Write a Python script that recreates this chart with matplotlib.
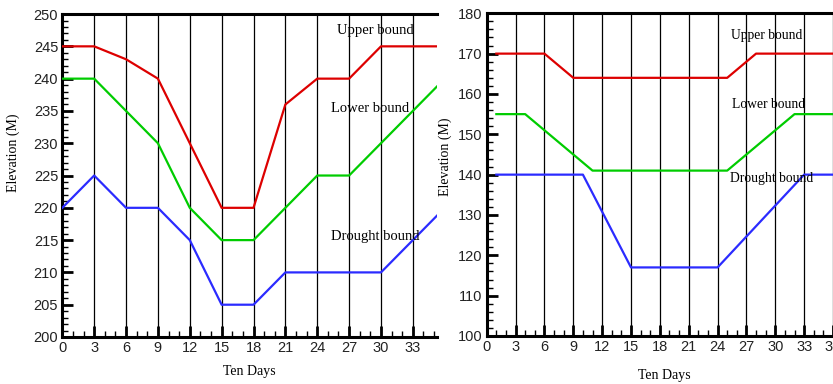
import matplotlib.pyplot as plt
from matplotlib.ticker import MultipleLocator

# left panel
days_up1 = [0, 3, 6, 9, 12, 15, 18, 21, 24, 27, 30, 36]
upper1 = [245, 245, 243, 240, 230, 220, 220, 236, 240, 240, 245, 245]
days_lo1 = [0, 3, 6, 9, 12, 15, 18, 21, 24, 27, 30, 33, 36]
lower1 = [240, 240, 235, 230, 220, 215, 215, 220, 225, 225, 230, 235, 240]
days_dr1 = [0, 3, 6, 9, 12, 15, 18, 21, 24, 27, 30, 36]
drought1 = [220, 225, 220, 220, 215, 205, 205, 210, 210, 210, 210, 220]

# right panel
days_up2 = [1, 6, 9, 25, 28, 36]
upper2 = [170, 170, 164, 164, 170, 170]
days_lo2 = [1, 4, 11, 25, 32, 36]
lower2 = [155, 155, 141, 141, 155, 155]
days_dr2 = [1, 10, 15, 24, 33, 36]
drought2 = [140, 140, 117, 117, 140, 140]

xticks1 = list(range(0, 34, 3))
xticks2 = list(range(0, 37, 3))

red = "#dd0000"
green = "#00cc00"
blue = "#2b2bff"
serif = "Liberation Serif"
sans = "Liberation Sans"

fig = plt.figure(figsize=(8.33, 3.84), dpi=100)
ax1 = fig.add_axes([0.0748, 0.1224, 0.4495, 0.841])
ax2 = fig.add_axes([0.5843, 0.125, 0.4157, 0.8404])


def style(ax, xticks, xmax, ylo, yhi, ymajor, yminor):
    ax.set_xlim(0, xmax)
    ax.set_ylim(ylo, yhi)
    ax.set_xticks(xticks)
    ax.yaxis.set_major_locator(MultipleLocator(ymajor))
    ax.xaxis.set_minor_locator(MultipleLocator(1))
    ax.yaxis.set_minor_locator(MultipleLocator(yminor))
    for x in xticks:
        ax.axvline(x, color="black", lw=0.9, zorder=1)
    ax.spines["right"].set_visible(False)
    for s in ["left", "bottom", "top"]:
        ax.spines[s].set_linewidth(2.2)
    ax.tick_params(which="major", direction="in", length=8, width=2, labelsize=10.5, pad=3)
    ax.tick_params(which="minor", direction="in", length=4, width=1)
    ax.tick_params(top=False, right=False, which="both")
    for lab in ax.get_xticklabels() + ax.get_yticklabels():
        lab.set_fontfamily(sans)
        lab.set_color("#222222")


style(ax1, xticks1, 35.25, 200, 250, 5, 1)
style(ax2, xticks2, 35.5, 100, 180, 10, 2)

ax1.plot(days_up1, upper1, color=red, lw=1.6, zorder=3)
ax1.plot(days_lo1, lower1, color=green, lw=1.6, zorder=3)
ax1.plot(days_dr1, drought1, color=blue, lw=1.6, zorder=3)

ax2.plot(days_up2, upper2, color=red, lw=1.6, zorder=3)
ax2.plot(days_lo2, lower2, color=green, lw=1.6, zorder=3)
ax2.plot(days_dr2, drought2, color=blue, lw=1.6, zorder=3)

ax1.text(25.9, 247.5, "Upper bound", family=serif, fontsize=10.5, va="center")
ax1.text(25.3, 235.4, "Lower bound", family=serif, fontsize=10.5, va="center")
ax1.text(25.3, 215.6, "Drought bound", family=serif, fontsize=10.5, va="center")

ax2.text(25.4, 174.6, "Upper bound", family=serif, fontsize=9.8, va="center")
ax2.text(25.5, 157.5, "Lower bound", family=serif, fontsize=9.8, va="center")
ax2.text(25.3, 139.1, "Drought bound", family=serif, fontsize=9.8, va="center")

fig.text(13 / 833, 1 - 153 / 384, "Elevation (M)", rotation=90, family=serif,
         fontsize=10, ha="center", va="center")
fig.text(249 / 833, 1 - 372 / 384, "Ten Days", family=serif, fontsize=10,
         ha="center", va="center")
fig.text(445 / 833, 1 - 157 / 384, "Elevation (M)", rotation=90, family=serif,
         fontsize=10, ha="center", va="center")
fig.text(664 / 833, 1 - 376 / 384, "Ten Days", family=serif, fontsize=10,
         ha="center", va="center")

fig.savefig("out.png", dpi=100)
